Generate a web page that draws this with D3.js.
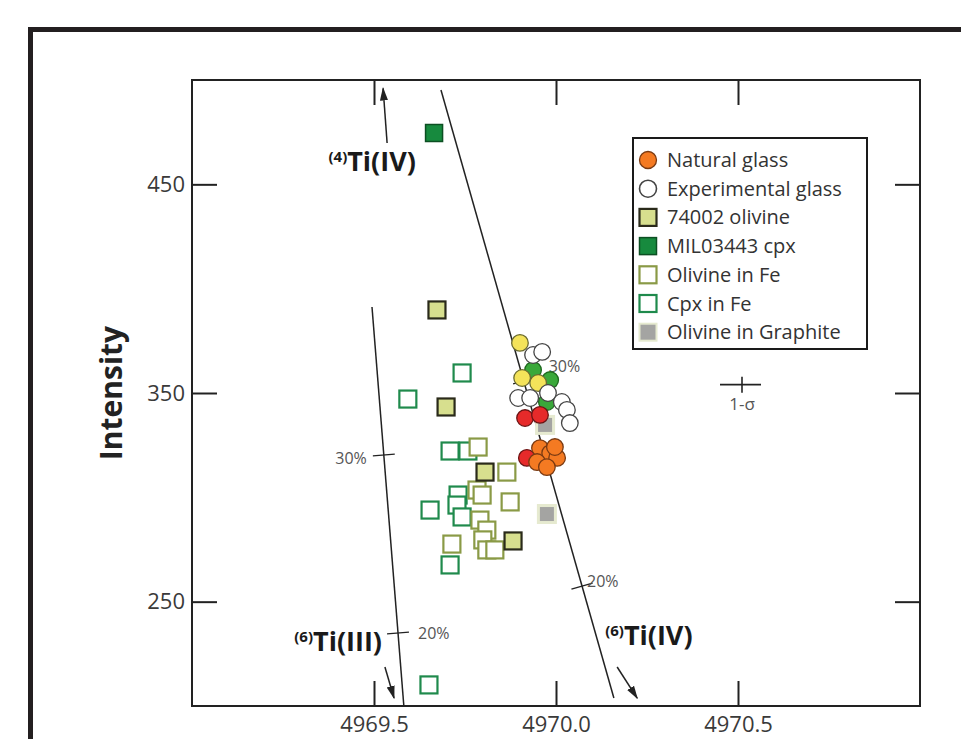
<!DOCTYPE html>
<html>
<head>
<meta charset="utf-8">
<script src="https://cdn.jsdelivr.net/npm/d3@7"></script>
<style>
  body { margin: 0; background: #fff; }
  svg { display: block; font-family: "Open Sans", "Noto Sans", sans-serif; }
</style>
</head>
<body>
<svg id="chart" width="961" height="739"></svg>
<script>
// axis ticks
const xTicks = [4969.5, 4970.0, 4970.5];
const yTicks = [250, 350, 450];

// [energy (eV), intensity]
const naturalGlass = [[4969.956, 323.6], [4969.984, 321.2], [4970.003, 318.9], [4969.997, 324.1], [4969.948, 316.9], [4969.975, 314.5]];
const redGlass = [[4969.915, 338.0], [4969.956, 339.5], [4969.920, 318.9]];
const yellowGlass = [[4969.901, 374.0], [4969.907, 357.2], [4969.951, 354.8]];
const greenGlass = [[4969.937, 361.0], [4969.984, 356.2], [4969.975, 345.7]];
const experimentalGlass = [[4969.937, 368.2], [4969.962, 369.7], [4969.896, 347.6], [4969.929, 347.6], [4969.978, 350.0], [4970.016, 345.7], [4970.030, 341.9], [4970.038, 335.6]];
const olivine74002 = [[4969.673, 389.8], [4969.698, 343.3], [4969.805, 312.1], [4969.882, 279.1]];
const mil03443 = [[4969.665, 474.6]];
const olivineInFe = [[4969.786, 324.1], [4969.865, 312.1], [4969.783, 303.5], [4969.797, 301.1], [4969.874, 297.8], [4969.791, 289.1], [4969.810, 284.3], [4969.799, 279.6], [4969.714, 277.6], [4969.810, 274.8], [4969.832, 274.8]];
const cpxInFe = [[4969.742, 359.6], [4969.593, 347.1], [4969.709, 322.2], [4969.758, 322.2], [4969.731, 301.1], [4969.728, 296.3], [4969.654, 293.9], [4969.742, 290.6], [4969.709, 267.6], [4969.651, 210.1]];
const olivineGraphite = [[4969.970, 334.7], [4969.975, 292.0]];

// mixing lines and their % marks
const lineTi3 = [[4969.4945, 391.2], [4969.582, 200]];
const lineTi4 = [[4969.684, 495.2], [4970.159, 203.8]];
const ti3Marks = [[320.3, "30%"], [235.0, "20%"]];
const ti4Marks = [[355.8, "30%"], [257.5, "20%"]];

const legendLabels = ["Natural glass", "Experimental glass", "74002 olivine", "MIL03443 cpx", "Olivine in Fe", "Cpx in Fe", "Olivine in Graphite"];

const svg = d3.select("#chart");
const pLeft = 192, pRight = 920, pTop = 80, pBottom = 706;

const x = d3.scaleLinear().domain([4969, 4971]).range([pLeft, pRight]);
const y = d3.scaleLinear().domain([200, 500]).range([pBottom, pTop]);

// outer frame
svg.append("rect").attr("x", 30.5).attr("y", 29.5).attr("width", 960).attr("height", 740)
  .attr("fill", "none").attr("stroke", "#231f20").attr("stroke-width", 5);

// axes (inward ticks)
const tickLen = 25;
const axes = [
  [d3.axisBottom(x).tickValues(xTicks).tickSize(tickLen).tickFormat(d3.format(".1f")), pBottom, "x", -1],
  [d3.axisTop(x).tickValues(xTicks).tickSize(tickLen).tickFormat(""), pTop, "x", 1],
  [d3.axisLeft(y).tickValues(yTicks).tickSize(tickLen).tickFormat(d3.format("d")), pLeft, "y", 1],
  [d3.axisRight(y).tickValues(yTicks).tickSize(tickLen).tickFormat(""), pRight, "y", -1]
];
axes.forEach(([ax, pos, dim, dir]) => {
  const g = svg.append("g")
    .attr("transform", dim === "x" ? `translate(0,${pos})` : `translate(${pos},0)`)
    .call(ax);
  g.select(".domain").remove();
  g.selectAll(".tick line").attr("stroke", "#222").attr("stroke-width", 2);
  if (dim === "x") g.selectAll(".tick line").attr("y2", dir * tickLen);
  else g.selectAll(".tick line").attr("x2", dir * tickLen);
  g.selectAll(".tick text").attr("fill", "#3a3a3a").style("font-size", "22px")
    .style("font-family", "'Open Sans', sans-serif");
  if (dim === "x") g.selectAll(".tick text").attr("y", 10).attr("dy", "0.71em");
  if (dim === "y") g.selectAll(".tick text").attr("x", -7);
});

svg.append("rect").attr("x", pLeft).attr("y", pTop).attr("width", pRight - pLeft).attr("height", pBottom - pTop)
  .attr("fill", "none").attr("stroke", "#222").attr("stroke-width", 2);

svg.append("text").attr("transform", `translate(122,${y(350)}) rotate(-90)`)
  .attr("text-anchor", "middle").attr("fill", "#222")
  .style("font-size", "30px").style("font-weight", "bold").text("Intensity");

// mixing lines
const lineGen = d3.line().x(d => x(d[0])).y(d => y(d[1]));
function drawMixLine(pts, marks, labelOffsets) {
  svg.append("path").attr("d", lineGen(pts)).attr("fill", "none").attr("stroke", "#222").attr("stroke-width", 1.5);
  const [p0, p1] = pts;
  const dx = x(p1[0]) - x(p0[0]), dy = y(p1[1]) - y(p0[1]);
  const len = Math.hypot(dx, dy);
  const nx = dy / len, ny = -dx / len;
  marks.forEach(([v, label], i) => {
    const t = (v - p0[1]) / (p1[1] - p0[1]);
    const cx = x(p0[0] + t * (p1[0] - p0[0])), cy = y(v);
    svg.append("line").attr("x1", cx - nx * 11).attr("y1", cy - ny * 11)
      .attr("x2", cx + nx * 11).attr("y2", cy + ny * 11)
      .attr("stroke", "#222").attr("stroke-width", 1.3);
    const o = labelOffsets[i];
    svg.append("text").attr("x", cx + o[0]).attr("y", cy + o[1]).attr("text-anchor", o[2])
      .attr("fill", "#555").style("font-size", "16px").text(label);
  });
}
drawMixLine(lineTi3, ti3Marks, [[-17, 9, "end"], [20, 6, "start"]]);
drawMixLine(lineTi4, ti4Marks, [[25, -9, "start"], [5, 1, "start"]]);

// arrows and labels
const defs = svg.append("defs");
defs.append("marker").attr("id", "ah").attr("viewBox", "0 0 10 10").attr("refX", 9).attr("refY", 5)
  .attr("markerWidth", 9).attr("markerHeight", 9).attr("orient", "auto-start-reverse")
  .append("path").attr("d", "M0,2 L10,5 L0,8 Z").attr("fill", "#222");

const arrows = [
  [[4969.536, 469.8], [4969.525, 496.0]],
  [[4969.530, 218.7], [4969.555, 203.8]],
  [[4970.168, 218.7], [4970.223, 203.8]]
];
arrows.forEach(([a, b]) => {
  svg.append("line").attr("x1", x(a[0])).attr("y1", y(a[1])).attr("x2", x(b[0])).attr("y2", y(b[1]))
    .attr("stroke", "#222").attr("stroke-width", 1.5).attr("marker-end", "url(#ah)");
});

const tiLabels = [
  [4969.495, 456.5, "middle", "(4)", "Ti(IV)"],
  [4969.522, 226.5, "end", "(6)", "Ti(III)"],
  [4970.135, 229.2, "start", "(6)", "Ti(IV)"]
];
tiLabels.forEach(([lx, ly, anchor, sup, main]) => {
  const t = svg.append("text").attr("x", x(lx)).attr("y", y(ly)).attr("text-anchor", anchor)
    .attr("fill", "#1a1a1a").style("font-weight", "bold");
  t.append("tspan").attr("dy", -9).style("font-size", "15px").text(sup);
  t.append("tspan").attr("dy", 9).style("font-size", "27px").text(main);
});

// 1-sigma bar
const sig = svg.append("g");
const sx = x(4970.5), sy = y(354);
sig.append("line").attr("x1", sx - 18).attr("x2", sx + 23).attr("y1", sy).attr("y2", sy)
  .attr("stroke", "#222").attr("stroke-width", 1.6);
sig.append("line").attr("x1", sx + 4).attr("x2", sx + 4).attr("y1", sy - 8).attr("y2", sy + 8)
  .attr("stroke", "#222").attr("stroke-width", 1.6);
sig.append("text").attr("x", sx + 4).attr("y", sy + 25).attr("text-anchor", "middle")
  .attr("fill", "#555").style("font-size", "17px").text("1-σ");

// markers
const sq = 17;
function squares(data, fill, stroke, sw) {
  svg.append("g").selectAll("rect").data(data).join("rect")
    .attr("x", d => x(d[0]) - sq / 2).attr("y", d => y(d[1]) - sq / 2)
    .attr("width", sq).attr("height", sq)
    .attr("fill", fill).attr("stroke", stroke).attr("stroke-width", sw);
}
function circles(data, fill, stroke) {
  svg.append("g").selectAll("circle").data(data).join("circle")
    .attr("cx", d => x(d[0])).attr("cy", d => y(d[1])).attr("r", 8.3)
    .attr("fill", fill).attr("stroke", stroke).attr("stroke-width", 1.3);
}

squares(cpxInFe, "#fff", "#1f8a4c", 2.2);
squares(olivineInFe, "#fff", "#8a9a46", 2.2);
squares(olivine74002, "#d7df8e", "#2a2a1a", 2.2);
squares(mil03443, "#178a3e", "#0c4f22", 1.5);
squares(olivineGraphite, "#a4a4a2", "#e6ead0", 3);
circles(greenGlass, "#3aa83a", "#1e6a1e");
circles(yellowGlass, "#f4e35a", "#6a6a30");
circles(experimentalGlass, "#fff", "#444");
circles(redGlass, "#e62a2a", "#6a1515");
circles(naturalGlass, "#f47a22", "#7a3a12");

// legend
const leg = svg.append("g");
leg.append("rect").attr("x", 633).attr("y", 138).attr("width", 234).attr("height", 211)
  .attr("fill", "#fff").attr("stroke", "#1a1a1a").attr("stroke-width", 2);
const legStyle = [
  ["c", "#f47a22", "#7a3a12", 1.3],
  ["c", "#fff", "#444", 1.6],
  ["s", "#d7df8e", "#2a2a1a", 2.2],
  ["s", "#178a3e", "#0c4f22", 1.5],
  ["s", "#fff", "#8a9a46", 2.2],
  ["s", "#fff", "#1f8a4c", 2.2],
  ["s", "#a4a4a2", "#e6ead0", 2]
];
legendLabels.forEach((lab, i) => {
  const cy = 160 + i * 28.7;
  const [shape, f, s, w] = legStyle[i];
  if (shape === "c") {
    leg.append("circle").attr("cx", 648).attr("cy", cy).attr("r", 8.5).attr("fill", f).attr("stroke", s).attr("stroke-width", w);
  } else {
    leg.append("rect").attr("x", 648 - 8.5).attr("y", cy - 8.5).attr("width", 17).attr("height", 17)
      .attr("fill", f).attr("stroke", s).attr("stroke-width", w);
  }
  leg.append("text").attr("x", 667).attr("y", cy + 7).attr("fill", "#333")
    .style("font-size", "20px").text(lab);
});
</script>
</body>
</html>
